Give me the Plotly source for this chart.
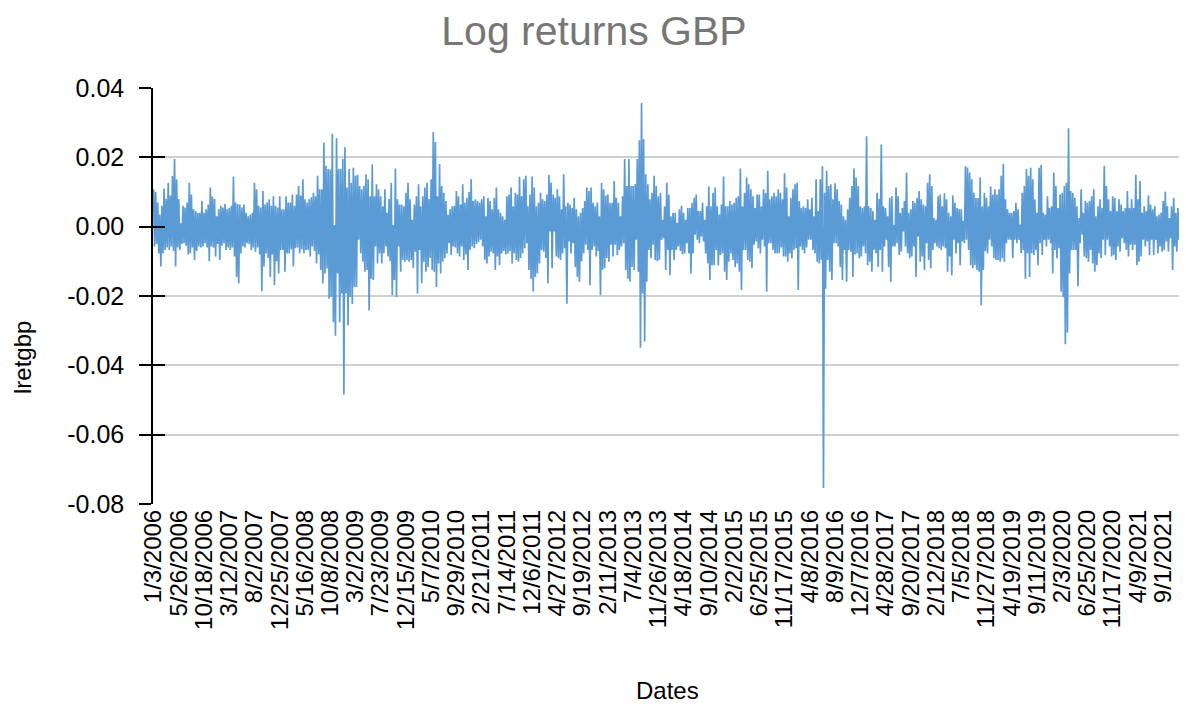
import plotly.graph_objects as go

# Tick labels of the category (date) axis
date_labels = [
    "1/3/2006", "5/26/2006", "10/18/2006", "3/12/2007", "8/2/2007", "12/25/2007",
    "5/16/2008", "10/8/2008", "3/2/2009", "7/23/2009", "12/15/2009", "5/7/2010",
    "9/29/2010", "2/21/2011", "7/14/2011", "12/6/2011", "4/27/2012", "9/19/2012",
    "2/11/2013", "7/4/2013", "11/26/2013", "4/18/2014", "9/10/2014", "2/2/2015",
    "6/25/2015", "11/17/2015", "4/8/2016", "8/9/2016", "12/7/2016", "4/28/2017",
    "9/20/2017", "2/12/2018", "7/5/2018", "11/27/2018", "4/19/2019", "9/11/2019",
    "2/3/2020", "6/25/2020", "11/17/2020", "4/9/2021", "9/1/2021",
]
points_per_label = 24

# lretgbp values (one row per label interval)
lret = [
    .0108,-.0057,.0100,-.0050,.0070,-.0077,.0035,-.0115,.0060,-.0077,.0110,-.0067,.0080,-.0060,.0127,-.0067,.0090,-.0057,.0146,-.0070,.0195,-.0115,.0137,-.0060,
    .0080,-.0067,.0010,-.0050,.0060,-.0048,.0055,-.0055,.0070,-.0080,.0127,-.0077,.0093,-.0060,.0050,-.0096,.0045,-.0070,.0040,-.0057,.0040,-.0060,.0074,-.0057,
    .0040,-.0048,.0050,-.0060,.0064,-.0100,.0113,-.0057,.0088,-.0060,.0080,-.0086,.0030,-.0050,.0050,-.0096,.0060,-.0055,.0055,-.0048,.0065,-.0067,.0050,-.0060,
    .0054,-.0067,.0060,-.0060,.0145,-.0086,.0070,-.0145,.0065,-.0164,.0064,-.0077,.0055,-.0057,.0064,-.0060,.0040,-.0048,.0030,-.0050,.0035,-.0067,.0040,-.0060,
    .0127,-.0072,.0108,-.0060,.0060,-.0080,.0055,-.0186,.0103,-.0115,.0064,-.0077,.0070,-.0090,.0079,-.0145,.0060,-.0080,.0088,-.0169,.0060,-.0100,.0055,-.0135,
    .0088,-.0067,.0050,-.0067,.0050,-.0130,.0088,-.0077,.0070,-.0077,.0070,-.0065,.0093,-.0115,.0060,-.0062,.0093,-.0060,.0117,-.0077,.0090,-.0065,.0137,-.0077,
    .0079,-.0067,.0070,-.0067,.0079,-.0086,.0085,-.0057,.0098,-.0070,.0088,-.0106,.0147,-.0080,.0108,-.0125,.0108,-.0164,.0242,-.0135,.0176,-.0120,.0166,-.0208,
    .0165,-.0203,.0268,-.0276,.0005,-.0315,.0255,-.0135,.0166,-.0276,.0166,-.0193,.0195,-.0484,.0229,-.0193,.0113,-.0285,.0166,-.0203,.0127,-.0223,.0170,-.0174,
    .0147,-.0174,.0150,-.0038,.0117,-.0077,.0108,-.0101,.0117,-.0130,.0151,-.0125,.0137,-.0242,.0088,-.0150,.0180,-.0154,.0088,-.0057,.0122,-.0106,.0108,-.0077,
    .0088,-.0106,.0059,-.0077,.0108,-.0057,.0040,-.0086,.0080,-.0100,.0127,-.0198,.0005,-.0154,.0168,-.0203,.0079,-.0057,.0064,-.0130,.0064,-.0096,.0059,-.0101,
    .0098,-.0096,.0127,-.0101,.0079,-.0096,.0020,-.0120,.0064,-.0072,.0088,-.0193,.0122,-.0067,.0059,-.0164,.0088,-.0101,.0113,-.0130,.0127,-.0116,.0080,-.0090,
    .0137,-.0125,.0273,-.0130,.0244,-.0174,.0088,-.0106,.0181,-.0135,.0117,-.0101,.0098,-.0091,.0074,-.0077,.0035,-.0048,.0050,-.0082,.0059,-.0057,.0060,-.0060,
    .0103,-.0077,.0088,-.0086,.0064,-.0057,.0122,-.0096,.0069,-.0080,.0083,-.0125,.0100,-.0067,.0137,-.0057,.0074,-.0062,.0079,-.0050,.0074,-.0045,.0070,-.0038,
    .0079,-.0057,.0088,-.0096,.0030,-.0106,.0083,-.0086,.0074,-.0072,.0050,-.0077,.0083,-.0125,.0113,-.0086,.0050,-.0111,.0040,-.0077,.0030,-.0070,.0020,-.0080,
    .0088,-.0077,.0093,-.0070,.0113,-.0106,.0059,-.0077,.0098,-.0096,.0093,-.0101,.0144,-.0090,.0088,-.0077,.0137,-.0062,.0147,-.0048,.0059,-.0125,.0093,-.0150,
    .0145,-.0188,.0113,-.0145,.0059,-.0135,.0069,-.0106,.0098,-.0067,.0079,-.0072,.0074,-.0090,.0093,-.0164,.0150,-.0014,.0127,-.0120,.0093,-.0014,.0083,-.0086,
    .0108,-.0091,.0088,-.0096,.0050,-.0077,.0151,-.0062,.0059,-.0222,.0069,-.0043,.0064,-.0077,.0054,-.0048,.0083,-.0116,.0050,-.0145,.0030,-.0159,.0040,-.0100,
    .0054,-.0077,.0074,-.0052,.0113,-.0067,.0103,-.0169,.0113,-.0067,.0069,-.0057,.0059,-.0086,.0070,-.0070,.0030,-.0198,.0127,-.0125,.0108,-.0120,.0090,-.0090,
    .0093,-.0101,.0069,-.0052,.0069,-.0086,.0132,-.0052,.0083,-.0082,.0069,-.0067,.0030,-.0057,.0088,-.0048,.0195,-.0125,.0117,-.0150,.0195,-.0159,.0117,-.0116,
    .0117,-.0125,.0122,-.0038,.0195,-.0130,.0249,-.0349,.0357,-.0193,.0253,-.0331,.0151,-.0159,.0122,-.0067,.0079,-.0091,.0098,-.0052,.0147,-.0096,.0117,-.0100,
    .0088,-.0096,.0098,-.0038,.0020,-.0033,.0059,-.0125,.0127,-.0067,.0093,-.0140,.0030,-.0067,.0040,-.0096,.0040,-.0067,.0011,-.0057,.0050,-.0070,.0060,-.0080,
    .0040,-.0077,.0020,-.0048,.0054,-.0077,.0054,-.0135,.0069,-.0077,.0083,-.0023,.0093,-.0038,.0045,-.0048,.0045,-.0028,.0069,-.0043,.0020,-.0077,.0059,-.0106,
    .0116,-.0154,.0059,-.0111,.0098,-.0111,.0113,-.0067,.0059,-.0111,.0035,-.0082,.0064,-.0077,.0145,-.0130,.0059,-.0154,.0059,-.0101,.0074,-.0077,.0064,-.0096,
    .0069,-.0116,.0083,-.0106,.0088,-.0130,.0168,-.0183,.0059,-.0067,.0098,-.0067,.0142,-.0096,.0122,-.0101,.0108,-.0120,.0088,-.0052,.0054,-.0043,.0093,-.0062,
    .0093,-.0077,.0059,-.0038,.0108,-.0057,.0098,-.0188,.0161,-.0048,.0079,-.0048,.0088,-.0067,.0098,-.0077,.0088,-.0077,.0108,-.0077,.0098,-.0060,.0079,-.0086,
    .0154,-.0086,.0113,-.0101,.0030,-.0077,.0083,-.0091,.0108,-.0067,.0122,-.0062,.0127,-.0183,.0074,-.0057,.0054,-.0067,.0059,-.0077,.0054,-.0060,.0079,-.0038,
    .0050,-.0038,.0083,-.0067,.0030,-.0077,.0137,-.0101,.0045,-.0106,.0137,-.0096,.0174,-.0754,.0098,-.0179,.0161,-.0096,.0117,-.0130,.0122,-.0154,.0079,-.0048,
    .0125,-.0048,.0108,-.0057,.0074,-.0116,.0064,-.0154,.0030,-.0067,.0020,-.0159,.0050,-.0067,.0083,-.0072,.0117,-.0145,.0168,-.0080,.0142,-.0077,.0117,-.0091,
    .0059,-.0086,.0054,-.0057,.0059,-.0077,.0261,-.0111,.0059,-.0101,.0054,-.0130,.0045,-.0067,.0020,-.0077,.0098,-.0116,.0080,-.0067,.0237,-.0130,.0059,-.0057,
    .0054,-.0038,.0030,-.0116,.0083,-.0159,.0088,-.0057,.0005,-.0057,.0113,-.0048,.0088,-.0082,.0040,-.0072,.0054,-.0014,.0074,-.0057,.0156,-.0077,.0040,-.0091,
    .0050,-.0086,.0074,-.0057,.0069,-.0145,.0083,-.0028,.0103,-.0101,.0079,-.0086,.0064,-.0125,.0059,-.0048,.0127,-.0096,.0151,-.0120,.0117,-.0067,.0025,-.0048,
    .0020,-.0057,.0088,-.0062,.0093,-.0067,.0059,-.0057,.0096,-.0062,.0079,-.0130,.0040,-.0086,.0030,-.0140,.0090,-.0038,.0069,-.0077,.0054,-.0048,.0050,-.0111,
    .0050,-.0043,.0016,-.0048,.0174,-.0038,.0171,-.0067,.0156,-.0111,.0137,-.0120,.0098,-.0111,.0083,-.0125,.0083,-.0130,.0142,-.0227,.0059,-.0125,.0098,-.0070,
    .0083,-.0077,.0059,-.0038,.0116,-.0057,.0093,-.0091,.0108,-.0096,.0093,-.0096,.0108,-.0101,.0147,-.0091,.0181,-.0101,.0079,-.0048,.0050,-.0038,.0040,-.0038,
    .0040,-.0091,.0045,-.0038,.0069,-.0048,.0050,-.0038,.0006,-.0077,.0098,-.0067,.0117,-.0150,.0166,-.0077,.0147,-.0145,.0170,-.0077,.0137,-.0082,.0079,-.0067,
    .0040,-.0111,.0170,-.0048,.0178,-.0082,.0040,-.0038,.0035,-.0057,.0088,-.0038,.0054,-.0048,.0059,-.0135,.0156,-.0067,.0117,-.0091,.0054,-.0062,.0093,-.0188,
    .0098,-.0203,.0117,-.0339,.0127,-.0305,.0284,-.0135,.0103,-.0067,.0098,-.0067,.0083,-.0067,.0059,-.0172,.0025,-.0048,.0108,-.0023,.0040,-.0086,.0074,-.0091,
    .0069,-.0101,.0074,-.0067,.0088,-.0106,.0108,-.0130,.0030,-.0111,.0059,-.0077,.0079,-.0091,.0054,-.0038,.0176,-.0082,.0117,-.0038,.0079,-.0057,.0045,-.0086,
    .0088,-.0082,.0083,-.0096,.0045,-.0057,.0079,-.0072,.0064,-.0033,.0045,-.0048,.0054,-.0067,.0103,-.0086,.0054,-.0052,.0079,-.0067,.0054,-.0052,.0150,-.0111,
    .0079,-.0101,.0132,-.0086,.0040,-.0038,.0059,-.0057,.0045,-.0043,.0090,-.0082,.0064,-.0038,.0050,-.0082,.0059,-.0038,.0030,-.0077,.0035,-.0057,.0040,-.0072,
    .0074,-.0067,.0101,-.0043,.0059,-.0072,.0025,-.0033,.0059,-.0125,.0083,-.0057,.0040,-.0072,.0054,-.0038,
]

y_ticks = [-0.08, -0.06, -0.04, -0.02, 0.00, 0.02, 0.04]
y_tick_text = ["-0.08", "-0.06", "-0.04", "-0.02", "0.00", "0.02", "0.04"]

idx = list(range(len(lret)))
tick_pos = [i * points_per_label for i in range(len(date_labels))]

FONT = "Liberation Sans, Arial, sans-serif"
# the page body adds an 8px offset, so the figure is drawn 8px smaller
W, H = 1179, 697
PL, PT, PR, PB = 145, 80, 7, 201
plot_w = W - PL - PR
plot_h = H - PT - PB

fig = go.Figure()
fig.add_trace(go.Scatter(
    x=idx, y=lret, mode="lines",
    line=dict(color="#5b9bd5", width=1.7),
    fill="tozeroy", fillcolor="#5b9bd5",
    name="lretgbp", showlegend=False,
))
# helper (empty) trace so the overlay axis draws the inner half of the cross ticks
fig.add_trace(go.Scatter(x=[], y=[], yaxis="y2", showlegend=False))

fig.update_layout(
    width=W, height=H,
    margin=dict(l=PL, r=PR, t=PT, b=PB),
    paper_bgcolor="white", plot_bgcolor="white",
    font=dict(family=FONT, color="#000000", size=24),
    title=dict(text="Log returns GBP", x=(594 - 8) / W, xanchor="center",
               y=1 - 23 / H, yanchor="middle",
               font=dict(family=FONT, size=41, color="#767676")),
    xaxis=dict(
        range=[-0.5, len(lret)],
        tickmode="array", tickvals=tick_pos, ticktext=date_labels,
        tickangle=-90, ticks="", showgrid=False, zeroline=False,
        showline=False, tickfont=dict(size=24, color="#000000"),
        automargin=False,
    ),
    yaxis=dict(
        range=[-0.08, 0.04],
        tickmode="array", tickvals=y_ticks, ticktext=y_tick_text,
        ticks="outside", ticklen=12, tickwidth=1.5, tickcolor="#000000",
        showline=True, linecolor="#000000", linewidth=1.5,
        showgrid=True, gridcolor="#d0d0d0", gridwidth=1.5,
        zeroline=False, ticklabelstandoff=10,
        tickfont=dict(size=25, color="#000000"),
        automargin=False,
    ),
    yaxis2=dict(
        overlaying="y", anchor="x", side="left",
        range=[-0.08, 0.04],
        tickmode="array", tickvals=y_ticks,
        ticks="inside", ticklen=12, tickwidth=1.5, tickcolor="#000000",
        showticklabels=False, showgrid=False, zeroline=False, showline=False,
    ),
    annotations=[
        dict(text="lretgbp", xref="paper", yref="paper",
             x=(22 - 8 - PL) / plot_w, y=(504 - 358) / plot_h,
             textangle=-90, showarrow=False,
             font=dict(family=FONT, size=24, color="#000000"),
             xanchor="center", yanchor="middle"),
        dict(text="Dates", xref="paper", yref="paper",
             x=(667 - 8 - PL) / plot_w, y=(504 - 690) / plot_h,
             showarrow=False,
             font=dict(family=FONT, size=24, color="#000000"),
             xanchor="center", yanchor="middle"),
    ],
)

fig.write_html("out.html")
